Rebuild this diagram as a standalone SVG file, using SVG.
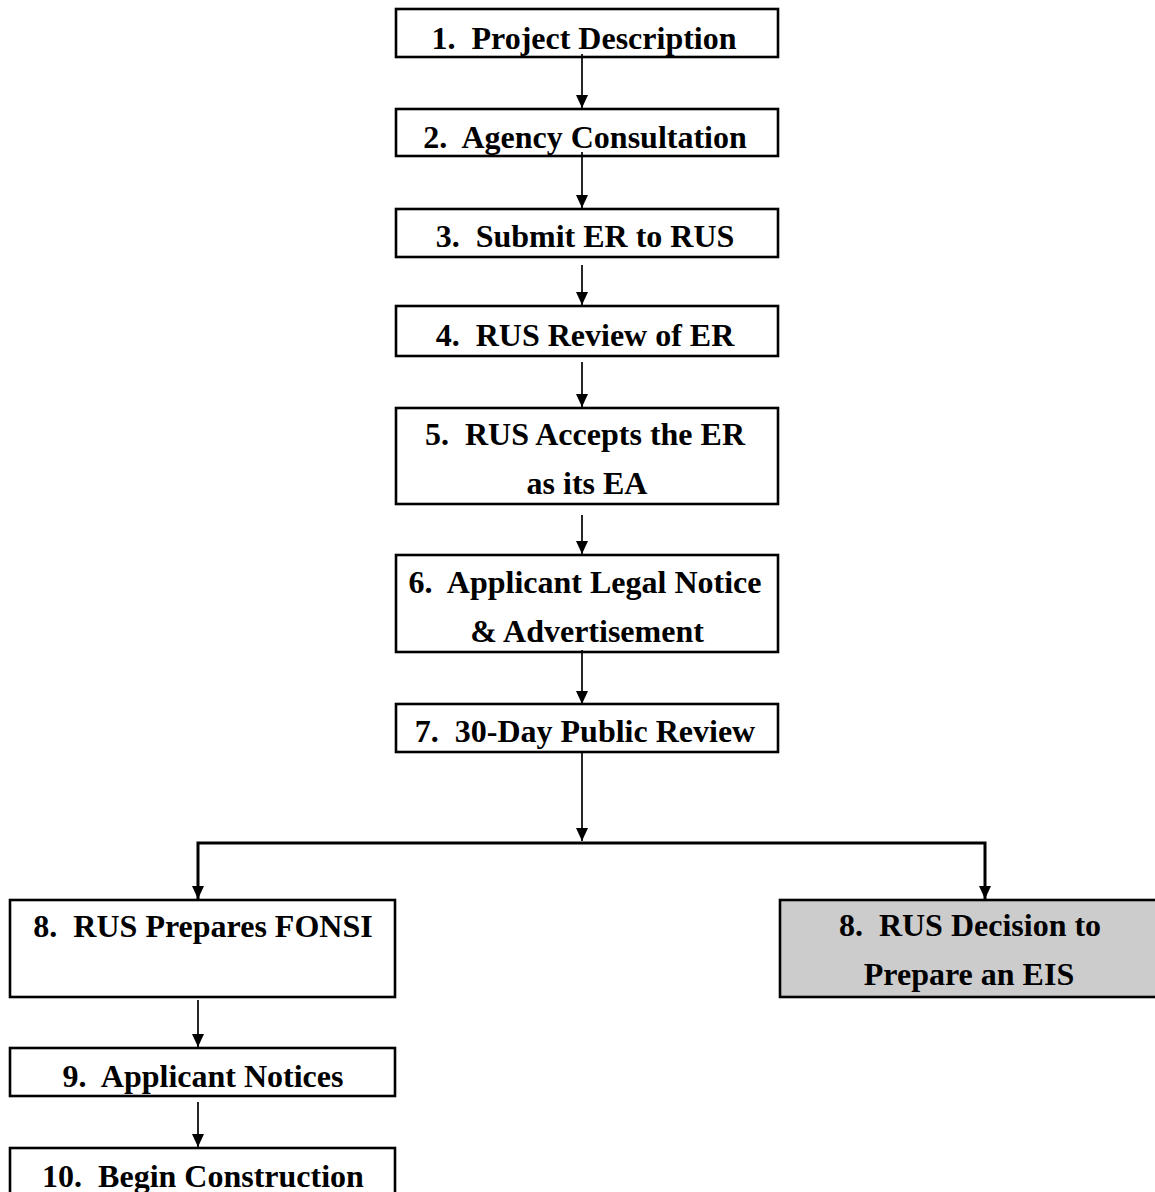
<svg xmlns="http://www.w3.org/2000/svg" width="1155" height="1192" viewBox="0 0 1155 1192">
  <defs>
    <marker id="arrow" markerUnits="userSpaceOnUse" markerWidth="14" markerHeight="14" viewBox="0 0 14 14" refX="13" refY="7" orient="auto">
      <path d="M0,1 L13,7 L0,13 Z" fill="#000"/>
    </marker>
    <style>
      .box { fill: #ffffff; stroke: #000000; stroke-width: 2.6; }
      .gray { fill: #cccccc; stroke: #000000; stroke-width: 2.6; }
      .lbl { font-family: "Liberation Serif", "Times New Roman", serif; font-weight: bold; font-size: 32px; fill: #000000; text-anchor: middle; }
      .conn { fill: none; stroke: #000000; stroke-width: 1.7; }
      .bus { fill: none; stroke: #000000; stroke-width: 3; }
    </style>
  </defs>
  <rect width="1155" height="1192" fill="#ffffff"/>

  <g id="n1"><rect class="box" x="396" y="9" width="382" height="48"/><text class="lbl" x="584" y="49">1.&#160; Project Description</text></g>
  <g id="n2"><rect class="box" x="396" y="109" width="382" height="47"/><text class="lbl" x="585" y="148">2.&#160; Agency Consultation</text></g>
  <g id="n3"><rect class="box" x="396" y="209" width="382" height="48"/><text class="lbl" x="585" y="247">3.&#160; Submit ER to RUS</text></g>
  <g id="n4"><rect class="box" x="396" y="306" width="382" height="50"/><text class="lbl" x="585" y="346">4.&#160; RUS Review of ER</text></g>
  <g id="n5"><rect class="box" x="396" y="408" width="382" height="96"/><text class="lbl" x="585" y="445">5.&#160; RUS Accepts the ER</text><text class="lbl" x="587" y="494">as its EA</text></g>
  <g id="n6"><rect class="box" x="396" y="555" width="382" height="97"/><text class="lbl" x="585" y="593">6.&#160; Applicant Legal Notice</text><text class="lbl" x="587" y="642">&amp; Advertisement</text></g>
  <g id="n7"><rect class="box" x="396" y="704" width="382" height="48"/><text class="lbl" x="585" y="742">7.&#160; 30-Day Public Review</text></g>
  <g id="n8a"><rect class="box" x="10" y="900" width="385" height="97"/><text class="lbl" x="203" y="937">8.&#160; RUS Prepares FONSI</text></g>
  <g id="n8b"><rect class="gray" x="780" y="900" width="381" height="97"/><text class="lbl" x="970" y="936">8.&#160; RUS Decision to</text><text class="lbl" x="969" y="985">Prepare an EIS</text></g>
  <g id="n9"><rect class="box" x="10" y="1048" width="385" height="48"/><text class="lbl" x="203" y="1087">9.&#160; Applicant Notices</text></g>
  <g id="n10"><rect class="box" x="10" y="1148" width="385" height="60"/><text class="lbl" x="203" y="1187">10.&#160; Begin Construction</text></g>

  <g id="connectors">
    <line class="conn" x1="582" y1="54" x2="582" y2="108" marker-end="url(#arrow)"/>
    <line class="conn" x1="582" y1="152" x2="582" y2="208" marker-end="url(#arrow)"/>
    <line class="conn" x1="582" y1="265" x2="582" y2="305" marker-end="url(#arrow)"/>
    <line class="conn" x1="582" y1="362" x2="582" y2="407" marker-end="url(#arrow)"/>
    <line class="conn" x1="582" y1="515" x2="582" y2="554" marker-end="url(#arrow)"/>
    <line class="conn" x1="582" y1="650" x2="582" y2="704" marker-end="url(#arrow)"/>
    <line class="conn" x1="582" y1="752" x2="582" y2="841" marker-end="url(#arrow)"/>
    <polyline class="bus" points="198,899 198,843 985,843 985,899"/>
    <line class="conn" x1="198" y1="843" x2="198" y2="899" marker-end="url(#arrow)"/>
    <line class="conn" x1="985" y1="843" x2="985" y2="899" marker-end="url(#arrow)"/>
    <line class="conn" x1="198" y1="1000" x2="198" y2="1047" marker-end="url(#arrow)"/>
    <line class="conn" x1="198" y1="1102" x2="198" y2="1147" marker-end="url(#arrow)"/>
  </g>
</svg>
